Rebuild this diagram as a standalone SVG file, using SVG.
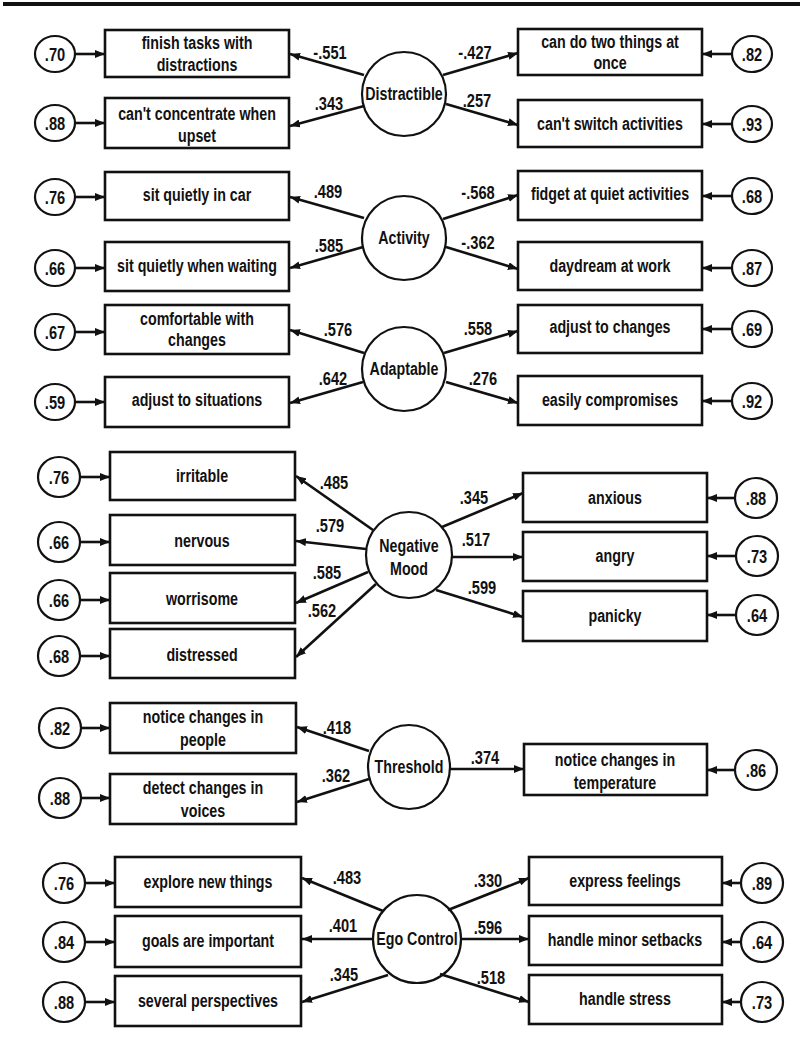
<svg xmlns="http://www.w3.org/2000/svg" width="805" height="1052" viewBox="0 0 805 1052">
<style>
.bx{fill:#fff;stroke:#111;stroke-width:2.6}
.ci{fill:#fff;stroke:#111;stroke-width:2.2}
.ed{stroke:#111;stroke-width:2.6;fill:none;marker-end:url(#ah)}
.t{font-family:"Liberation Sans",Arial,sans-serif;font-weight:bold;font-size:18.5px;text-anchor:middle;fill:#111}
.n{font-family:"Liberation Sans",Arial,sans-serif;font-weight:bold;font-size:19px;text-anchor:middle;fill:#111}
</style>
<defs>
<marker id="ah" markerUnits="userSpaceOnUse" markerWidth="10" markerHeight="8" viewBox="0 0 10 8" refX="10" refY="4" orient="auto">
<path d="M0,0 L10,4 L0,8 z" fill="#111"/>
</marker>
</defs>
<rect width="805" height="1052" fill="#fff"/>
<line x1="3" y1="4" x2="800" y2="4" stroke="#111" stroke-width="4"/>

<!-- Section 1: Distractible -->
<g id="distractible"><circle class="ci" cx="404" cy="94" r="42"/><text class="t" transform="translate(404,100) scale(0.77,1)">Distractible</text></g>
<g id="d1"><rect class="bx" x="105" y="30" width="184" height="47"/><text class="t" transform="translate(197,49) scale(0.77,1)">finish tasks with</text><text class="t" transform="translate(197,71) scale(0.77,1)">distractions</text></g>
<g id="d2"><rect class="bx" x="105" y="98" width="184" height="50"/><text class="t" transform="translate(197,120) scale(0.77,1)">can't concentrate when</text><text class="t" transform="translate(197,142) scale(0.77,1)">upset</text></g>
<g id="d3"><rect class="bx" x="518" y="29" width="184" height="46"/><text class="t" transform="translate(610,48) scale(0.77,1)">can do two things at</text><text class="t" transform="translate(610,69) scale(0.77,1)">once</text></g>
<g id="d4"><rect class="bx" x="518" y="100" width="184" height="47"/><text class="t" transform="translate(610,130) scale(0.77,1)">can't switch activities</text></g>
<g id="e_d1"><ellipse class="ci" cx="55" cy="54" rx="20" ry="18"/><text class="n" transform="translate(55,61) scale(0.77,1)">.70</text></g>
<g id="e_d2"><ellipse class="ci" cx="55" cy="123" rx="20" ry="18"/><text class="n" transform="translate(55,130) scale(0.77,1)">.88</text></g>
<g id="e_d3"><ellipse class="ci" cx="752" cy="54" rx="20" ry="18"/><text class="n" transform="translate(752,61) scale(0.77,1)">.82</text></g>
<g id="e_d4"><ellipse class="ci" cx="752" cy="124" rx="20" ry="18"/><text class="n" transform="translate(752,131) scale(0.77,1)">.93</text></g>

<!-- Section 2: Activity -->
<g id="activity"><circle class="ci" cx="404" cy="238" r="42"/><text class="t" transform="translate(404,244) scale(0.77,1)">Activity</text></g>
<g id="a1"><rect class="bx" x="105" y="172" width="184" height="48"/><text class="t" transform="translate(197,201) scale(0.77,1)">sit quietly in car</text></g>
<g id="a2"><rect class="bx" x="105" y="242" width="184" height="49"/><text class="t" transform="translate(197,272) scale(0.77,1)">sit quietly when waiting</text></g>
<g id="a3"><rect class="bx" x="518" y="171" width="184" height="49"/><text class="t" transform="translate(610,200) scale(0.77,1)">fidget at quiet activities</text></g>
<g id="a4"><rect class="bx" x="518" y="242" width="184" height="48"/><text class="t" transform="translate(610,272) scale(0.77,1)">daydream at work</text></g>
<g id="e_a1"><ellipse class="ci" cx="55" cy="197" rx="20" ry="18"/><text class="n" transform="translate(55,204) scale(0.77,1)">.76</text></g>
<g id="e_a2"><ellipse class="ci" cx="55" cy="268" rx="20" ry="18"/><text class="n" transform="translate(55,275) scale(0.77,1)">.66</text></g>
<g id="e_a3"><ellipse class="ci" cx="752" cy="196" rx="20" ry="18"/><text class="n" transform="translate(752,203) scale(0.77,1)">.68</text></g>
<g id="e_a4"><ellipse class="ci" cx="752" cy="268" rx="20" ry="18"/><text class="n" transform="translate(752,275) scale(0.77,1)">.87</text></g>

<!-- Section 3: Adaptable -->
<g id="adaptable"><circle class="ci" cx="404" cy="369" r="42"/><text class="t" transform="translate(404,375) scale(0.77,1)">Adaptable</text></g>
<g id="p1"><rect class="bx" x="105" y="305" width="184" height="49"/><text class="t" transform="translate(197,325) scale(0.77,1)">comfortable with</text><text class="t" transform="translate(197,346) scale(0.77,1)">changes</text></g>
<g id="p2"><rect class="bx" x="105" y="377" width="184" height="50"/><text class="t" transform="translate(197,406) scale(0.77,1)">adjust to situations</text></g>
<g id="p3"><rect class="bx" x="518" y="305" width="184" height="48"/><text class="t" transform="translate(610,333) scale(0.77,1)">adjust to changes</text></g>
<g id="p4"><rect class="bx" x="518" y="376" width="184" height="49"/><text class="t" transform="translate(610,406) scale(0.77,1)">easily compromises</text></g>
<g id="e_p1"><ellipse class="ci" cx="55" cy="332" rx="20" ry="18"/><text class="n" transform="translate(55,339) scale(0.77,1)">.67</text></g>
<g id="e_p2"><ellipse class="ci" cx="55" cy="402" rx="20" ry="18"/><text class="n" transform="translate(55,409) scale(0.77,1)">.59</text></g>
<g id="e_p3"><ellipse class="ci" cx="752" cy="329" rx="20" ry="18"/><text class="n" transform="translate(752,336) scale(0.77,1)">.69</text></g>
<g id="e_p4"><ellipse class="ci" cx="752" cy="401" rx="20" ry="18"/><text class="n" transform="translate(752,408) scale(0.77,1)">.92</text></g>

<!-- Section 4: Negative Mood -->
<g id="negmood"><circle class="ci" cx="409" cy="555" r="43"/><text class="t" transform="translate(409,552) scale(0.77,1)">Negative</text><text class="t" transform="translate(409,575) scale(0.77,1)">Mood</text></g>
<g id="m1"><rect class="bx" x="110" y="452" width="185" height="48"/><text class="t" transform="translate(202,482) scale(0.77,1)">irritable</text></g>
<g id="m2"><rect class="bx" x="110" y="515" width="185" height="50"/><text class="t" transform="translate(202,547) scale(0.77,1)">nervous</text></g>
<g id="m3"><rect class="bx" x="110" y="573" width="185" height="50"/><text class="t" transform="translate(202,605) scale(0.77,1)">worrisome</text></g>
<g id="m4"><rect class="bx" x="110" y="629" width="185" height="49"/><text class="t" transform="translate(202,661) scale(0.77,1)">distressed</text></g>
<g id="m5"><rect class="bx" x="523" y="473" width="184" height="49"/><text class="t" transform="translate(615,504) scale(0.77,1)">anxious</text></g>
<g id="m6"><rect class="bx" x="523" y="532" width="184" height="49"/><text class="t" transform="translate(615,562) scale(0.77,1)">angry</text></g>
<g id="m7"><rect class="bx" x="523" y="591" width="184" height="50"/><text class="t" transform="translate(615,622) scale(0.77,1)">panicky</text></g>
<g id="e_m1"><ellipse class="ci" cx="59" cy="477" rx="21" ry="20"/><text class="n" transform="translate(59,484) scale(0.77,1)">.76</text></g>
<g id="e_m2"><ellipse class="ci" cx="59" cy="542" rx="21" ry="20"/><text class="n" transform="translate(59,549) scale(0.77,1)">.66</text></g>
<g id="e_m3"><ellipse class="ci" cx="59" cy="600" rx="21" ry="20"/><text class="n" transform="translate(59,607) scale(0.77,1)">.66</text></g>
<g id="e_m4"><ellipse class="ci" cx="59" cy="656" rx="21" ry="20"/><text class="n" transform="translate(59,663) scale(0.77,1)">.68</text></g>
<g id="e_m5"><ellipse class="ci" cx="756" cy="498" rx="21" ry="20"/><text class="n" transform="translate(756,505) scale(0.77,1)">.88</text></g>
<g id="e_m6"><ellipse class="ci" cx="757" cy="556" rx="21" ry="20"/><text class="n" transform="translate(757,563) scale(0.77,1)">.73</text></g>
<g id="e_m7"><ellipse class="ci" cx="757" cy="615" rx="21" ry="20"/><text class="n" transform="translate(757,622) scale(0.77,1)">.64</text></g>

<!-- Section 5: Threshold -->
<g id="threshold"><ellipse class="ci" cx="409" cy="767" rx="41" ry="42"/><text class="t" transform="translate(409,773) scale(0.77,1)">Threshold</text></g>
<g id="h1"><rect class="bx" x="110" y="703" width="186" height="50"/><text class="t" transform="translate(203,723) scale(0.77,1)">notice changes in</text><text class="t" transform="translate(203,746) scale(0.77,1)">people</text></g>
<g id="h2"><rect class="bx" x="110" y="774" width="186" height="50"/><text class="t" transform="translate(203,794) scale(0.77,1)">detect changes in</text><text class="t" transform="translate(203,817) scale(0.77,1)">voices</text></g>
<g id="h3"><rect class="bx" x="524" y="744" width="183" height="51"/><text class="t" transform="translate(615,766) scale(0.77,1)">notice changes in</text><text class="t" transform="translate(615,789) scale(0.77,1)">temperature</text></g>
<g id="e_h1"><ellipse class="ci" cx="60" cy="728" rx="21" ry="20"/><text class="n" transform="translate(60,735) scale(0.77,1)">.82</text></g>
<g id="e_h2"><ellipse class="ci" cx="60" cy="798" rx="21" ry="20"/><text class="n" transform="translate(60,805) scale(0.77,1)">.88</text></g>
<g id="e_h3"><ellipse class="ci" cx="756" cy="770" rx="21" ry="20"/><text class="n" transform="translate(756,777) scale(0.77,1)">.86</text></g>

<!-- Section 6: Ego Control -->
<g id="egocontrol"><circle class="ci" cx="417" cy="939" r="44"/><text class="t" transform="translate(417,945) scale(0.77,1)">Ego Control</text></g>
<g id="g1"><rect class="bx" x="115" y="857" width="186" height="50"/><text class="t" transform="translate(208,888) scale(0.77,1)">explore new things</text></g>
<g id="g2"><rect class="bx" x="115" y="916" width="186" height="51"/><text class="t" transform="translate(208,947) scale(0.77,1)">goals are important</text></g>
<g id="g3"><rect class="bx" x="115" y="976" width="186" height="50"/><text class="t" transform="translate(208,1007) scale(0.77,1)">several perspectives</text></g>
<g id="g4"><rect class="bx" x="529" y="857" width="193" height="48"/><text class="t" transform="translate(625,887) scale(0.77,1)">express feelings</text></g>
<g id="g5"><rect class="bx" x="529" y="916" width="193" height="49"/><text class="t" transform="translate(625,946) scale(0.77,1)">handle minor setbacks</text></g>
<g id="g6"><rect class="bx" x="529" y="975" width="193" height="49"/><text class="t" transform="translate(625,1005) scale(0.77,1)">handle stress</text></g>
<g id="e_g1"><ellipse class="ci" cx="64" cy="883" rx="21" ry="20"/><text class="n" transform="translate(64,890) scale(0.77,1)">.76</text></g>
<g id="e_g2"><ellipse class="ci" cx="64" cy="942" rx="21" ry="20"/><text class="n" transform="translate(64,949) scale(0.77,1)">.84</text></g>
<g id="e_g3"><ellipse class="ci" cx="64" cy="1002" rx="21" ry="20"/><text class="n" transform="translate(64,1009) scale(0.77,1)">.88</text></g>
<g id="e_g4"><ellipse class="ci" cx="762" cy="883" rx="21" ry="20"/><text class="n" transform="translate(762,890) scale(0.77,1)">.89</text></g>
<g id="e_g5"><ellipse class="ci" cx="762" cy="942" rx="21" ry="20"/><text class="n" transform="translate(762,949) scale(0.77,1)">.64</text></g>
<g id="e_g6"><ellipse class="ci" cx="762" cy="1002" rx="21" ry="20"/><text class="n" transform="translate(762,1009) scale(0.77,1)">.73</text></g>

<g id="connectors">
<line class="ed" x1="364" y1="75" x2="290" y2="54"/>
<line class="ed" x1="364" y1="106" x2="290" y2="126"/>
<line class="ed" x1="443" y1="75" x2="518" y2="53"/>
<line class="ed" x1="446" y1="104" x2="518" y2="125"/>
<line class="ed" x1="75" y1="54" x2="105" y2="54"/>
<line class="ed" x1="75" y1="123" x2="105" y2="123"/>
<line class="ed" x1="732" y1="54" x2="702" y2="54"/>
<line class="ed" x1="732" y1="124" x2="702" y2="124"/>
<line class="ed" x1="364" y1="218" x2="290" y2="197"/>
<line class="ed" x1="363" y1="247" x2="290" y2="268"/>
<line class="ed" x1="443" y1="219" x2="518" y2="195"/>
<line class="ed" x1="446" y1="247" x2="518" y2="269"/>
<line class="ed" x1="75" y1="197" x2="105" y2="197"/>
<line class="ed" x1="75" y1="268" x2="105" y2="268"/>
<line class="ed" x1="732" y1="196" x2="702" y2="196"/>
<line class="ed" x1="732" y1="268" x2="702" y2="268"/>
<line class="ed" x1="364" y1="353" x2="290" y2="330"/>
<line class="ed" x1="363" y1="382" x2="290" y2="403"/>
<line class="ed" x1="444" y1="353" x2="518" y2="331"/>
<line class="ed" x1="446" y1="382" x2="518" y2="403"/>
<line class="ed" x1="75" y1="332" x2="105" y2="332"/>
<line class="ed" x1="75" y1="402" x2="105" y2="402"/>
<line class="ed" x1="732" y1="329" x2="702" y2="329"/>
<line class="ed" x1="732" y1="401" x2="702" y2="401"/>
<line class="ed" x1="373" y1="530" x2="296" y2="476"/>
<line class="ed" x1="366" y1="549" x2="296" y2="541"/>
<line class="ed" x1="368" y1="572" x2="296" y2="603"/>
<line class="ed" x1="376" y1="584" x2="296" y2="657"/>
<line class="ed" x1="442" y1="527" x2="523" y2="493"/>
<line class="ed" x1="452" y1="557" x2="523" y2="557"/>
<line class="ed" x1="436" y1="590" x2="523" y2="617"/>
<line class="ed" x1="80" y1="477" x2="110" y2="477"/>
<line class="ed" x1="80" y1="542" x2="110" y2="542"/>
<line class="ed" x1="80" y1="600" x2="110" y2="600"/>
<line class="ed" x1="80" y1="656" x2="110" y2="656"/>
<line class="ed" x1="735" y1="498" x2="707" y2="498"/>
<line class="ed" x1="736" y1="556" x2="707" y2="556"/>
<line class="ed" x1="736" y1="615" x2="707" y2="615"/>
<line class="ed" x1="369" y1="751" x2="297" y2="727"/>
<line class="ed" x1="369" y1="779" x2="297" y2="802"/>
<line class="ed" x1="450" y1="769" x2="524" y2="769"/>
<line class="ed" x1="81" y1="728" x2="110" y2="728"/>
<line class="ed" x1="81" y1="798" x2="110" y2="798"/>
<line class="ed" x1="735" y1="770" x2="707" y2="770"/>
<line class="ed" x1="383" y1="911" x2="302" y2="878"/>
<line class="ed" x1="373" y1="939" x2="302" y2="939"/>
<line class="ed" x1="388" y1="975" x2="302" y2="1002"/>
<line class="ed" x1="448" y1="910" x2="529" y2="878"/>
<line class="ed" x1="461" y1="939" x2="529" y2="939"/>
<line class="ed" x1="440" y1="974" x2="529" y2="1002"/>
<line class="ed" x1="85" y1="883" x2="115" y2="883"/>
<line class="ed" x1="85" y1="942" x2="115" y2="942"/>
<line class="ed" x1="85" y1="1002" x2="115" y2="1002"/>
<line class="ed" x1="741" y1="883" x2="722" y2="883"/>
<line class="ed" x1="741" y1="942" x2="722" y2="942"/>
<line class="ed" x1="741" y1="1002" x2="722" y2="1002"/>
</g>

<g id="labels">
<text class="n" transform="translate(330,59) scale(0.77,1)">-.551</text>
<text class="n" transform="translate(329,110) scale(0.77,1)">.343</text>
<text class="n" transform="translate(475,59) scale(0.77,1)">-.427</text>
<text class="n" transform="translate(477,107) scale(0.77,1)">.257</text>
<text class="n" transform="translate(328,198) scale(0.77,1)">.489</text>
<text class="n" transform="translate(329,252) scale(0.77,1)">.585</text>
<text class="n" transform="translate(478,199) scale(0.77,1)">-.568</text>
<text class="n" transform="translate(478,249) scale(0.77,1)">-.362</text>
<text class="n" transform="translate(338,336) scale(0.77,1)">.576</text>
<text class="n" transform="translate(333,385) scale(0.77,1)">.642</text>
<text class="n" transform="translate(478,335) scale(0.77,1)">.558</text>
<text class="n" transform="translate(483,385) scale(0.77,1)">.276</text>
<text class="n" transform="translate(334,489) scale(0.77,1)">.485</text>
<text class="n" transform="translate(330,532) scale(0.77,1)">.579</text>
<text class="n" transform="translate(327,579) scale(0.77,1)">.585</text>
<text class="n" transform="translate(322,617) scale(0.77,1)">.562</text>
<text class="n" transform="translate(474,504) scale(0.77,1)">.345</text>
<text class="n" transform="translate(476,546) scale(0.77,1)">.517</text>
<text class="n" transform="translate(482,594) scale(0.77,1)">.599</text>
<text class="n" transform="translate(337,734) scale(0.77,1)">.418</text>
<text class="n" transform="translate(336,782) scale(0.77,1)">.362</text>
<text class="n" transform="translate(485,764) scale(0.77,1)">.374</text>
<text class="n" transform="translate(347,884) scale(0.77,1)">.483</text>
<text class="n" transform="translate(343,932) scale(0.77,1)">.401</text>
<text class="n" transform="translate(344,981) scale(0.77,1)">.345</text>
<text class="n" transform="translate(488,887) scale(0.77,1)">.330</text>
<text class="n" transform="translate(488,934) scale(0.77,1)">.596</text>
<text class="n" transform="translate(491,984) scale(0.77,1)">.518</text>
</g>
</svg>
